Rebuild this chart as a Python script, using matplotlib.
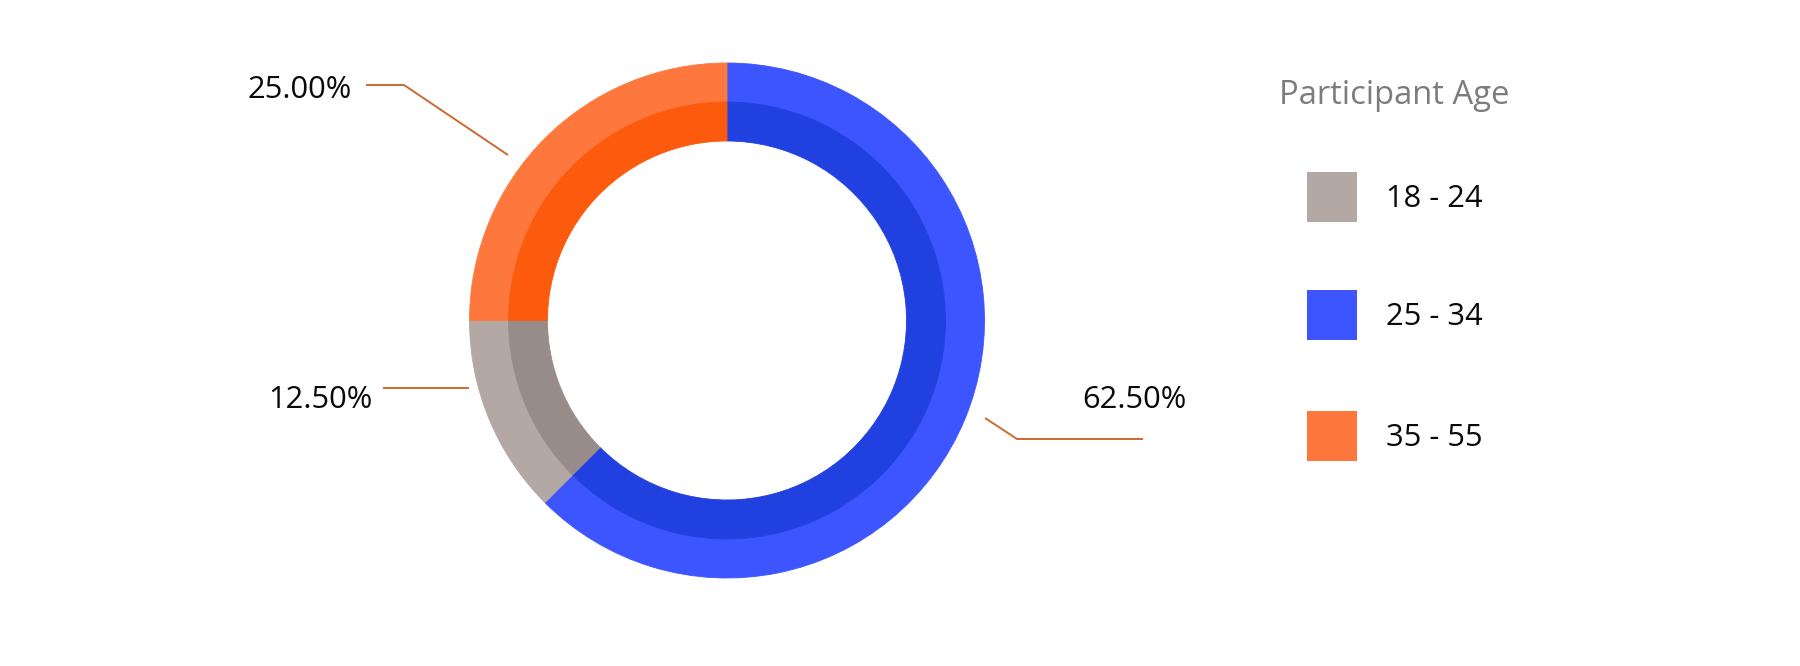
import matplotlib
matplotlib.use("Agg")
import matplotlib.pyplot as plt
from matplotlib.patches import Rectangle

# ---------------- data ----------------
categories = ["18 - 24", "25 - 34", "35 - 55"]
shares = [12.5, 62.5, 25.0]
legend_title = "Participant Age"

# ---------------- style ----------------
outer_colors = {"18 - 24": "#B3A8A4", "25 - 34": "#3D55FE", "35 - 55": "#FE783E"}
inner_colors = {"18 - 24": "#988C8B", "25 - 34": "#2140E0", "35 - 55": "#FC5A0C"}
draw_order = ["25 - 34", "18 - 24", "35 - 55"]   # clockwise from 12 o'clock
line_color = "#CB6A30"
FONT = ["Open Sans", "DejaVu Sans"]

W, H = 1800, 666
def py(y):  # pixel-from-top -> data y
    return H - y

fig = plt.figure(figsize=(W / 100, H / 100), dpi=100)
ax = fig.add_axes([0, 0, 1, 1])

cx, cy = 727, py(320.5)
r_outer, r_mid, r_hole = 257.5, 218.5, 179.5

vals = [shares[categories.index(c)] for c in draw_order]
w1, _ = ax.pie(vals, colors=[outer_colors[c] for c in draw_order], radius=r_outer,
               center=(cx, cy), startangle=90, counterclock=False,
               wedgeprops=dict(width=r_outer - r_mid, linewidth=0.6))
w2, _ = ax.pie(vals, colors=[inner_colors[c] for c in draw_order], radius=r_mid,
               center=(cx, cy), startangle=90, counterclock=False,
               wedgeprops=dict(width=r_mid - r_hole, linewidth=0.6))
for w in list(w1) + list(w2):
    w.set_edgecolor(w.get_facecolor())

# leader lines and percentage labels (layout positions in pixels)
label_layout = {
    "35 - 55": dict(line=[(508, 155), (404, 85), (366, 85)], text=(352, 98), ha="right"),
    "18 - 24": dict(line=[(469, 388), (383, 388)], text=(373, 408), ha="right"),
    "25 - 34": dict(line=[(985, 418), (1017, 439), (1143, 439)], text=(1082, 408), ha="left"),
}
for c, v in zip(categories, shares):
    lay = label_layout[c]
    xs = [p[0] for p in lay["line"]]
    ys = [py(p[1]) for p in lay["line"]]
    ax.plot(xs, ys, color=line_color, lw=1.4, solid_capstyle="butt")
    ax.text(lay["text"][0], py(lay["text"][1]), f"{v:.2f}%", ha=lay["ha"], va="baseline",
            fontsize=22.2, family=FONT, color="#0A0A0A")

# legend
ax.text(1279, py(104), legend_title, ha="left", va="baseline", fontsize=23.6,
        family=FONT, color="#7C7C7C")
row_tops = [172, 290, 411]
for c, top in zip(categories, row_tops):
    ax.add_patch(Rectangle((1307, py(top + 50)), 50, 50, facecolor=outer_colors[c],
                           edgecolor="none"))
    ax.text(1386, py(top + 35), c, ha="left", va="baseline", fontsize=22.2,
            family=FONT, color="#0A0A0A")

ax.set_xlim(0, W)
ax.set_ylim(0, H)
ax.set_aspect("equal")
ax.axis("off")
fig.savefig("out.png", dpi=100, facecolor="white")
